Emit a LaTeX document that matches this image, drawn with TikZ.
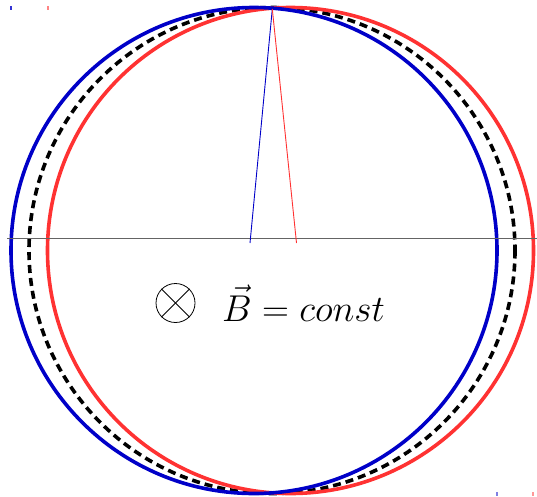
\documentclass[tikz,border=0pt]{standalone}
\usetikzlibrary{positioning}
\definecolor{OrbBlue}{RGB}{0,0,200}
\definecolor{OrbRed}{RGB}{255,50,50}
\definecolor{OrbAxis}{RGB}{100,100,100}
\tikzset{
  orb blue/.style={draw=OrbBlue, line width=3.6pt},
  orb red/.style={draw=OrbRed, line width=3.6pt},
  orb mean/.style={draw=black, line width=3.6pt, dash pattern=on 8pt off 5pt},
  orb ray/.style={line width=0.9pt},
  orb axis/.style={draw=OrbAxis, line width=1.8pt},
  orb tick/.style={line width=1.2pt}
}
\begin{document}
\begin{tikzpicture}[x=1pt, y=-1pt]
\useasboundingbox (0,0) rectangle (537,496);
% circles
\coordinate (cb) at (254,250.5);
\coordinate (cr) at (290.5,250.5);
\coordinate (cm) at (272,250.5);
\draw[orb mean] (cm) circle[radius=243];
\draw[orb red] (cr) circle[radius=243];
\draw[orb blue] (cb) circle[radius=243];
% axis and radii
\coordinate (ax1) at (7,238.5);
\coordinate (ax2) at (537,238.5);
\coordinate (top) at (272.3,9);
\coordinate (rb) at (250,243);
\coordinate (rr) at (296.5,243);
\draw[orb axis] (ax1) -- (ax2);
\draw[orb ray, OrbBlue] (rb) -- (top);
\draw[orb ray, OrbRed] (rr) -- (top);
% bounding marks
\draw[orb tick, OrbBlue!80] (11,6) -- (11,10);
\draw[orb tick, OrbRed!60] (48,6) -- (48,10);
\draw[orb tick, OrbBlue!50] (497,492) -- (497,496);
\draw[orb tick, OrbRed!50] (533,492) -- (533,496);
% field symbol
\node[draw, circle, minimum size=39pt, inner sep=0pt, line width=0.8pt] (into) at (175.5,303) {};
\draw[line width=0.8pt] (into.north west) -- (into.south east);
\draw[line width=0.8pt] (into.north east) -- (into.south west);
\node[anchor=base west, inner sep=0pt, font=\Huge] (field) at (222,321) {\scalebox{1.5}{$\vec{B} = const$}};
\end{tikzpicture}
\end{document}
